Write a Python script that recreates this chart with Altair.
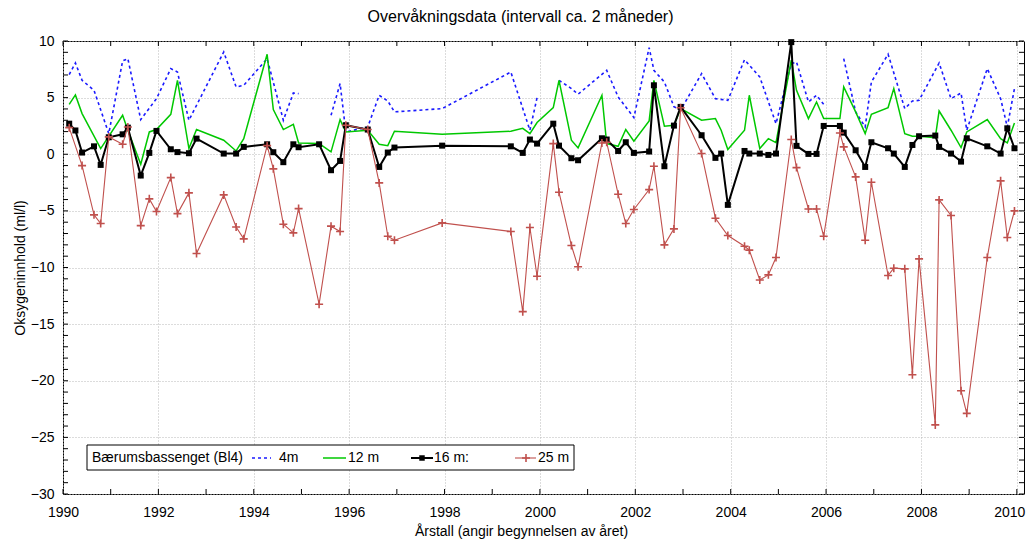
import altair as alt
import pandas as pd

TITLE = "Overvåkningsdata (intervall ca. 2 måneder)"
X_TITLE = "Årstall (angir begynnelsen av året)"
Y_TITLE = "Oksygeninnhold (ml/l)"
LEGEND_TITLE = "Bærumsbassenget (Bl4)"
SERIES = ["4m", "12 m", "16 m:", "25 m"]
X_TICKS = list(range(1990, 2011, 2))
Y_TICKS = list(range(-30, 11, 5))
X_MINOR = list(range(1990, 2011))
Y_MINOR = list(range(-30, 11))

DATES = [
    1990.13, 1990.26, 1990.40, 1990.65, 1990.79, 1990.96, 1991.25, 1991.36, 1991.63, 1991.81,
    1991.96, 1992.26, 1992.40, 1992.64, 1992.80, 1993.37, 1993.63, 1993.79, 1994.28, 1994.41,
    1994.62, 1994.83, 1994.94, 1995.37, 1995.62, 1995.81, 1995.93, 1996.39, 1996.63, 1996.81,
    1996.95, 1997.95, 1999.39, 1999.64, 1999.79, 1999.94, 2000.28, 2000.40, 2000.66, 2000.80,
    2001.30, 2001.40, 2001.64, 2001.80, 2001.97, 2002.29, 2002.39, 2002.61, 2002.81, 2002.95,
    2003.39, 2003.68, 2003.80, 2003.94, 2004.29, 2004.39, 2004.61, 2004.79, 2004.95, 2005.27,
    2005.38, 2005.63, 2005.80, 2005.95, 2006.29, 2006.37, 2006.62, 2006.82, 2006.95, 2007.30,
    2007.42, 2007.65, 2007.81, 2007.95, 2008.29, 2008.37, 2008.62, 2008.83, 2008.95, 2009.38,
    2009.66, 2009.80, 2009.95,
]

# 4 m (gaps in the record start a new line piece at these dates)
V4 = [
    7.03, 8.06, 6.53, 5.65, None, 1.82, 8.24, 8.44, 3.06, None,
    4.91, 7.56, 7.26, 3.0, None, 9.03, 5.94, 6.09, 8.44, None,
    3.0, 5.41, 5.35, None, 3.44, 6.24, 1.97, 2.41, 5.21, 4.7,
    3.74, 4.03, 7.26, None, 2.12, 5.0, None, 6.53, 5.8, 5.3,
    None, 7.41, 5.06, None, 3.24, 9.41, 7.41, 6.38, 4.2, 3.9,
    7.12, 4.91, None, 4.76, 8.35, None, 6.82, None, 2.7, 8.0,
    8.15, 4.62, 5.21, 4.4, None, 8.44, 3.74, 2.41, 6.38, 8.83,
    None, 4.03, 4.7, 4.76, None, 8.06, 4.91, 5.41, 2.12, 7.56,
    4.91, 2.41, 5.8,
]
BLUE_BREAKS = [1995.37, 2000.28, 2006.29]

V12 = [
    4.41, 5.24, 3.59, None, 0.5, None, 3.44, 2.12, -0.88, 1.97,
    2.18, 3.53, 6.53, 0.5, 2.18, 1.24, 0.29, 1.38, 8.83, 3.94,
    2.18, 2.65, 1.0, 0.94, 0.21, 3.06, 1.97, 2.12, 0.88, 0.76,
    2.03, 1.76, 2.03, 2.29, 1.82, 2.8, 4.12, 6.53, 1.24, 0.56,
    5.21, 0.94, 0.7, 2.18, 1.15, 2.94, 6.53, 2.47, 2.56, 4.03,
    3.0, 3.15, 2.12, 0.41, 2.12, 5.21, 0.5, 1.38, 1.03, 8.3,
    5.65, 3.15, 4.62, 3.15, 3.15, 5.94, 3.74, 1.82, 3.53, 4.12,
    5.8, 1.82, 1.59, 1.59, 1.47, 3.82, 2.12, 0.59, 1.97, 3.06,
    1.38, 1.0, 2.76,
]

V16 = [
    2.7, 2.1, 0.15, 0.7, -0.94, 1.5, 1.76, 2.35, -1.88, 0.12,
    2.06, 0.44, 0.19, 0.09, 1.38, 0.06, 0.06, 0.65, 0.88, 0.18,
    -0.7, 0.88, 0.62, 0.88, -1.41, -0.59, 2.56, 2.18, -1.12, 0.15,
    0.59, 0.76, 0.7, 0.12, 1.3, 0.94, 2.7, 0.76, -0.35, -0.53,
    1.41, 1.3, 0.29, 1.06, 0.12, 0.24, 6.09, -1.06, 2.53, 4.18,
    1.68, -0.32, 0.06, -4.47, 0.29, 0.06, 0.06, -0.06, 0.06, 9.9,
    0.74, 0.03, 0.03, 2.5, 2.5, 1.91, 0.35, -1.12, 1.06, 0.53,
    0.06, -1.12, 0.82, 1.59, 1.65, 0.65, 0.06, -0.65, 1.41, 0.7,
    0.06, 2.29, 0.53,
]

V25 = [
    2.35, None, -1.0, -5.35, -6.12, 1.53, 0.88, 2.41, -6.3, -3.94,
    -5.06, -2.06, -5.24, -3.41, -8.77, -3.59, -6.42, -7.47, 0.76, -1.29,
    -6.18, -6.94, -4.8, -13.24, -6.35, -6.82, 2.56, 2.18, -2.53, -7.24,
    -7.59, -6.06, -6.82, -13.9, -6.47, -10.77, 0.94, -3.35, -8.06, -9.94,
    1.0, 1.06, -3.53, -6.12, -4.88, -3.12, -1.06, -8.0, -6.59, 4.1,
    0.06, -5.65, None, -7.18, -8.12, -8.47, -11.1, -10.65, -9.12, 1.3,
    -1.18, -4.83, -4.83, -7.24, 1.88, 0.65, -2.0, -7.59, -2.47, -10.71,
    -10.06, -10.12, -19.47, -9.24, -23.9, -4.03, -5.41, -20.88, -22.88, -9.12,
    -2.35, -7.35, -5.0,
]

for _v in (V4, V12, V16, V25):
    assert len(_v) == len(DATES)

FONT = "Liberation Sans"
W, H = 961, 453
BLUE, GREEN, BLACK, RED = "#1a1aff", "#00c800", "#000000", "#c0504d"
PLUS = "M -1 0 L 1 0 M 0 -1 L 0 1"
LAST = X_TICKS[-1]

rows = []
for name, vals in zip(SERIES, [V4, V12, V16, V25]):
    for d, v in zip(DATES, vals):
        if v is None:
            continue
        seg = sum(1 for b in BLUE_BREAKS if d >= b) if name == "4m" else 0
        rows.append({"series": name, "year": d, "value": v, "seg": seg})
df = pd.DataFrame(rows)

xenc = alt.X(
    "year:Q",
    scale=alt.Scale(domain=[1990, 2010.15], nice=False, zero=False),
    axis=alt.Axis(values=X_TICKS, format="d", title=X_TITLE, grid=True, ticks=False,
                  domain=False, labelPadding=11, titleX=458, titleY=37,
                  titleAlign="center", titleBaseline="middle", labelFlush=False,
                  labelAlign={"condition": {"test": f"datum.value == {LAST}", "value": "right"},
                              "value": "center"},
                  labelOffset={"condition": {"test": f"datum.value == {LAST}", "value": 8},
                               "value": 0}),
)
yenc = alt.Y(
    "value:Q",
    scale=alt.Scale(domain=[-30, 10], nice=False, zero=False),
    axis=alt.Axis(values=Y_TICKS, title=Y_TITLE, grid=True, ticks=False, domain=False,
                  labelPadding=9, titleX=-43, titleY=226.5, titleAngle=270,
                  titleAlign="center", titleBaseline="middle", labelFlush=False),
)

base = alt.Chart(df).encode(x=xenc, y=yenc)


def sel(name):
    return base.transform_filter(alt.datum.series == name)


blue = sel("4m").mark_line(color=BLUE, strokeWidth=1.6, strokeDash=[3, 3]).encode(detail="seg:N")
green = sel("12 m").mark_line(color=GREEN, strokeWidth=1.5)
black_line = sel("16 m:").mark_line(color=BLACK, strokeWidth=2)
black_pts = sel("16 m:").mark_point(shape="square", filled=True, color=BLACK, size=36, opacity=1)
red_line = sel("25 m").mark_line(color=RED, strokeWidth=1.1)
red_pts = sel("25 m").mark_point(shape=PLUS, filled=False, color=RED, strokeWidth=1.6,
                                 size=64, opacity=1)

# inward minor ticks on all four sides
xdf = pd.DataFrame({"year": X_MINOR})
ydf = pd.DataFrame({"value": Y_MINOR})
tick_b = alt.Chart(xdf).mark_rule(color="black").encode(x=xenc, y=alt.value(H), y2=alt.value(H - 5))
tick_t = alt.Chart(xdf).mark_rule(color="black").encode(x=xenc, y=alt.value(0), y2=alt.value(5))
tick_l = alt.Chart(ydf).mark_rule(color="black").encode(y=yenc, x=alt.value(0), x2=alt.value(5))
tick_r = alt.Chart(ydf).mark_rule(color="black").encode(y=yenc, x=alt.value(W), x2=alt.value(W - 5))

# legend box inside the plot
one = alt.Chart(pd.DataFrame({"k": [0]}))
LY = 417
leg_box = one.mark_rect(fill="white", stroke="black", strokeWidth=1).encode(
    x=alt.value(24), x2=alt.value(511), y=alt.value(404), y2=alt.value(429))
leg_title = one.mark_text(align="left", baseline="middle", font=FONT, fontSize=14).encode(
    x=alt.value(29), y=alt.value(LY), text=alt.value(LEGEND_TITLE))
leg_l1 = one.mark_rule(color=BLUE, strokeWidth=1.6, strokeDash=[3, 3]).encode(
    x=alt.value(189), x2=alt.value(208), y=alt.value(LY))
leg_l2 = one.mark_rule(color=GREEN, strokeWidth=1.5).encode(
    x=alt.value(260), x2=alt.value(283), y=alt.value(LY))
leg_l3 = one.mark_rule(color=BLACK, strokeWidth=2).encode(
    x=alt.value(348), x2=alt.value(370), y=alt.value(LY))
leg_p3 = one.mark_point(shape="square", filled=True, color=BLACK, size=30, opacity=1).encode(
    x=alt.value(359), y=alt.value(LY))
leg_l4 = one.mark_rule(color=RED, strokeWidth=1.1).encode(
    x=alt.value(452), x2=alt.value(473), y=alt.value(LY))
leg_p4 = one.mark_point(shape=PLUS, filled=False, color=RED, strokeWidth=1.6, size=64, opacity=1).encode(
    x=alt.value(463), y=alt.value(LY))
leg_texts = [
    one.mark_text(align="left", baseline="middle", font=FONT, fontSize=14).encode(
        x=alt.value(px), y=alt.value(LY), text=alt.value(t))
    for px, t in zip([216, 285, 371, 475], SERIES)
]

chart = alt.layer(
    blue, green, black_line, black_pts, red_line, red_pts,
    tick_b, tick_t, tick_l, tick_r,
    leg_box, leg_title, leg_l1, leg_l2, leg_l3, leg_p3, leg_l4, leg_p4, *leg_texts,
).properties(
    width=W,
    height=H,
    title=alt.Title(TITLE, font=FONT, fontSize=16, fontWeight="normal", anchor="middle",
                    frame="group", dx=-23, offset=9, color="black"),
    autosize=alt.AutoSizeParams(type="none"),
    padding={"left": 55, "top": 33, "right": 2, "bottom": 45},
).configure_view(
    stroke="black", strokeWidth=1
).configure_axis(
    labelFont=FONT, titleFont=FONT, labelFontSize=14, titleFontSize=14,
    labelColor="black", titleColor="black", titleFontWeight="normal",
    gridColor="#b8b8b8", gridDash=[1, 2], gridWidth=1,
)

chart.save("out.html", embed_options={"renderer": "svg", "actions": False})
